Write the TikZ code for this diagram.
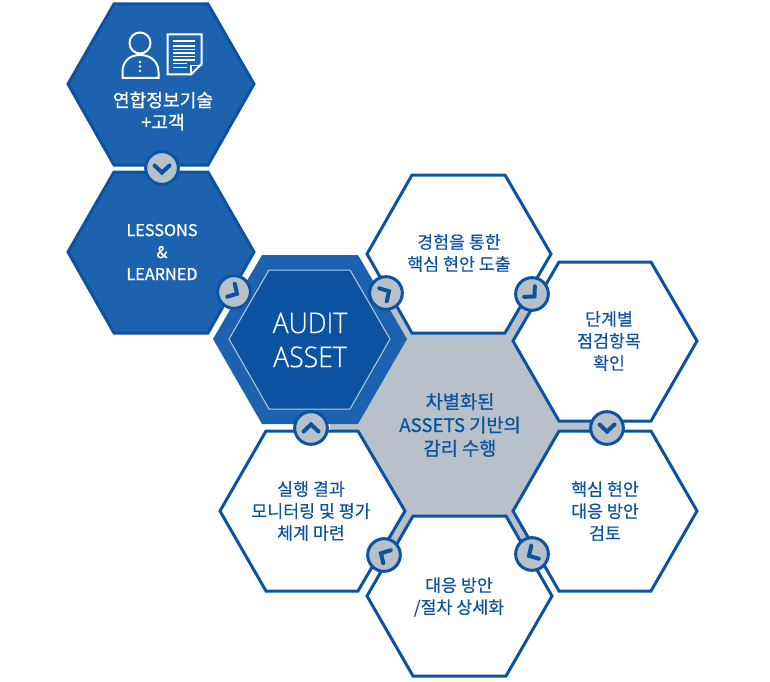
\documentclass[tikz,border=0pt]{standalone}
\usepackage{fontspec}
\setmainfont[FakeBold=0.25]{Noto Sans CJK KR}
\newfontfamily\latinlight[FakeStretch=0.93,FakeBold=0.3]{Open Sans Light}
\newfontfamily\semibold[FakeBold=0.9]{Noto Sans CJK KR}
\definecolor{deep}{RGB}{11,83,160}
\definecolor{mid}{RGB}{29,98,175}
\definecolor{greyfill}{RGB}{184,192,202}
\tikzset{
  hexline/.style={line width=2.25pt,line join=miter,draw=deep},
  whitehex/.style={hexline,fill=white},
  bluehex/.style={hexline,fill=mid},
  label/.style={text=deep,align=center,font=\fontsize{13}{16.5}\selectfont,inner sep=0pt},
  whitelabel/.style={text=white,align=center,font=\fontsize{13.6}{16.5}\selectfont\semibold,inner sep=0pt},
  badge/.style={circle,draw=deep,fill=greyfill,line width=2.25pt,minimum size=24.5pt,inner sep=0pt},
  chev/.style={draw=deep,line width=3pt,line cap=round,line join=miter},
  iconline/.style={draw=white,line width=1.5pt}
}
\newcommand{\chevron}[3]{\draw[chev,shift={(#1,#2)},rotate=#3,yscale=-1] (-3.5,-7.5) -- (3.5,0) -- (-3.5,7.5);}
\begin{document}
\begin{tikzpicture}[x=0.75pt,y=-0.75pt]
\useasboundingbox (0,0) rectangle (770,681);
% grey body and bands
\fill[greyfill] (378,284) -- (395,284) -- (412,333) -- (505,333) -- (522,294) -- (540,294) -- (513,341) -- (559,421) -- (606,421) -- (606,431) -- (559,431) -- (513,511) -- (540,554) -- (525,562) -- (506,516) -- (413,516) -- (394,562) -- (378,550) -- (405,511) -- (358,431) -- (330,431) -- (330,400) -- cycle;
% blue hexagons
\draw[bluehex] (114,4) -- (208,4) -- (254,84) -- (208,165) -- (114,165) -- (68,84) -- cycle;
\draw[bluehex] (114,172) -- (208,172) -- (254,252) -- (208,333) -- (114,333) -- (68,252) -- cycle;
% white hexagons
\draw[whitehex] (412,175) -- (505,175) -- (551,254) -- (505,333) -- (412,333) -- (367,254) -- cycle;
\draw[whitehex] (559,262) -- (651,262) -- (697,341) -- (651,421) -- (559,421) -- (513,341) -- cycle;
\draw[whitehex] (559,431) -- (651,431) -- (697,511) -- (651,591) -- (559,591) -- (513,511) -- cycle;
\draw[whitehex] (413,516) -- (506,516) -- (552,596) -- (506,676) -- (413,676) -- (367,596) -- cycle;
\draw[whitehex] (266,431) -- (358,431) -- (405,511) -- (358,591) -- (266,591) -- (220,511) -- cycle;
% audit hexagon
\fill[mid] (262,255) -- (358,255) -- (407,339) -- (358,424) -- (262,424) -- (213,339) -- cycle;
\draw[draw=white!70!deep,fill=deep,line width=0.75pt] (269,270) -- (350,270) -- (390,339) -- (350,409) -- (269,409) -- (229,339) -- cycle;
% icon: person
\draw[iconline] (140,43) circle (10.5);
\draw[iconline] (122.5,78) -- (122.5,72) .. controls (122.5,61) and (130,55) .. (140,55) .. controls (150,55) and (158.5,61) .. (158.5,72) -- (158.5,78) -- cycle;
\foreach \yy in {62,66.5,71} \fill[white] (140,\yy) circle (1.3);
% icon: document
\draw[iconline] (167.5,34.5) -- (201.5,34.5) -- (201.5,64) -- (191,74.5) -- (167.5,74.5) -- cycle;
\draw[draw=white,line width=0.9pt] (191,74.5) -- (191,65.5) -- (201.5,65.5);
\draw[draw=white,line width=1.2pt] (173,41) -- (195,41);
\foreach \yy in {46,49.5,53,56.5,60} \draw[draw=white,line width=0.9pt] (173,\yy) -- (195,\yy);
\draw[draw=white,line width=0.9pt] (173,63.5) -- (187,63.5);
\draw[draw=white,line width=0.9pt] (173,67.5) -- (187,67.5);
% badges
\node[badge] (b1) at (162,168) {};
\chevron{162}{169}{-90}
\node[badge] (b2) at (234,292) {};
\chevron{234}{292}{-30}
\node[badge] (b3) at (386,293) {};
\chevron{386}{293}{30}
\node[badge] (b4) at (532,294) {};
\chevron{532}{294}{-45}
\node[badge] (b5) at (607,428) {};
\chevron{607}{428}{-90}
\node[badge] (b6) at (532,554) {};
\chevron{532}{554}{-150}
\node[badge] (b7) at (384,555) {};
\chevron{384}{555}{150}
\node[badge] (b8) at (311,428) {};
\chevron{311}{428}{90}
% labels
\node[whitelabel] (t1) at (163,111) {연합정보기술\\+고객};
\node[whitelabel,font=\fontsize{12.2}{16.5}\selectfont\semibold] (t2) at (162,252) {LESSONS\\\&\\LEARNED};
\node[text=white,align=center,inner sep=0pt,font=\fontsize{21.5}{25.5}\selectfont\latinlight] (t3) at (310,340) {AUDIT\\ASSET};
\node[label] (t4) at (459,253) {경험을 통한\\핵심 현안 도출};
\node[label] (t5) at (609,341) {단계별\\점검항목\\확인};
\node[label,font=\fontsize{14}{17.5}\selectfont\semibold] (t6) at (460,425) {차별화된\\ASSETS 기반의\\감리 수행};
\node[label] (t7) at (605,511) {핵심 현안\\대응 방안\\검토};
\node[label] (t8) at (459,597) {대응 방안\\/절차 상세화};
\node[label] (t9) at (311,511) {실행 결과\\모니터링 및 평가\\체계 마련};
\end{tikzpicture}
\end{document}
